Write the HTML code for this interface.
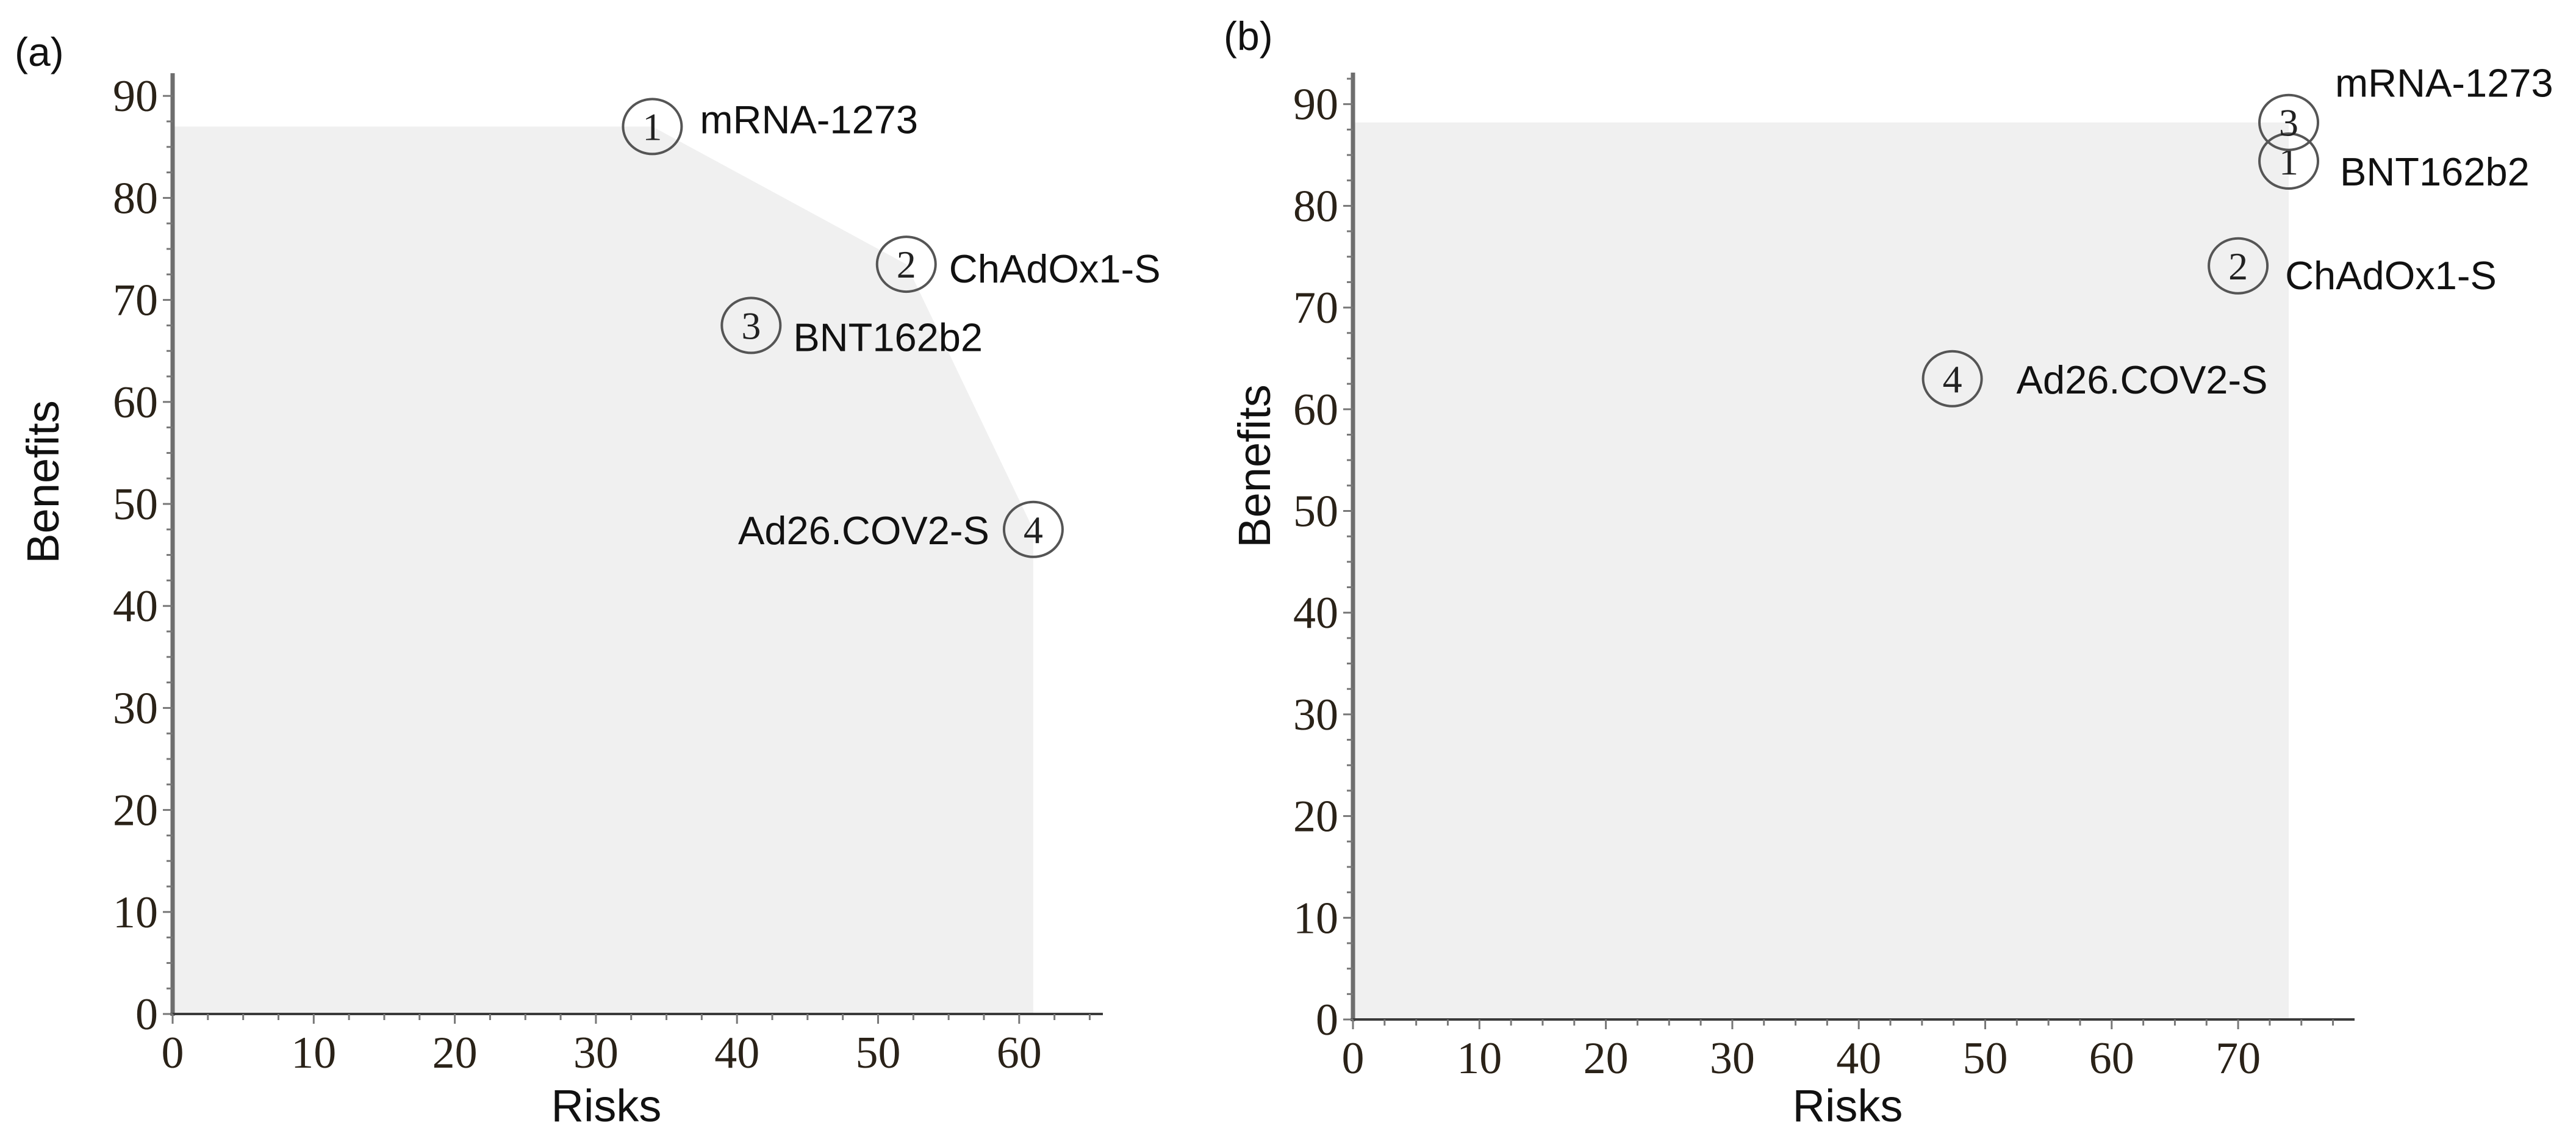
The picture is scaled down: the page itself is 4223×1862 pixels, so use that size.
<!DOCTYPE html>
<html><head><meta charset="utf-8"><style>
html,body{margin:0;padding:0;background:#fff;}
svg{display:block;}
text{font-family:"Liberation Sans",Arial,sans-serif;fill:#111;}
.tick{font-family:"Liberation Serif","Times New Roman",serif;font-size:74px;fill:#2a2218;}
.num{font-family:"Liberation Serif",serif;font-size:64px;fill:#222;}
</style></head><body>
<svg id="fig" width="4223" height="1862" viewBox="0 0 4223 1862" xmlns="http://www.w3.org/2000/svg"></svg>
<script>
// Panel (a)
const aNames = ["mRNA-1273","ChAdOx1-S","BNT162b2","Ad26.COV2-S"];
const aIds = ["1","2","3","4"];
const aRisk = [34,52,41,61];
const aBenefit = [87,73.5,67.5,47.5];
const aXTicks = [0,10,20,30,40,50,60];
const aYTicks = [0,10,20,30,40,50,60,70,80,90];
// Panel (b)
const bNames = ["BNT162b2","ChAdOx1-S","mRNA-1273","Ad26.COV2-S"];
const bIds = ["1","2","3","4"];
const bRisk = [74,70,74,47.4];
const bBenefit = [84.4,74.1,88.2,63];
const bXTicks = [0,10,20,30,40,50,60,70];
const bYTicks = [0,10,20,30,40,50,60,70,80,90];

const NS="http://www.w3.org/2000/svg";
const svg=document.getElementById('fig');
function mk(tag,attrs,parent,txt){const e=document.createElementNS(NS,tag);for(const k in attrs)e.setAttribute(k,attrs[k]);if(txt!==undefined)e.textContent=txt;(parent||svg).appendChild(e);return e;}

function upperHull(pts){
  pts=pts.slice().sort((p,q)=>p[0]-q[0]||p[1]-q[1]);
  const h=[];
  for(const p of pts){
    while(h.length>=2){const a=h[h.length-2],b=h[h.length-1];
      const cr=(b[0]-a[0])*(p[1]-a[1])-(b[1]-a[1])*(p[0]-a[0]);
      if(cr>=0)h.pop();else break;}
    h.push(p);}
  return h;
}

function panel(cfg){
  const g=mk('g',{});
  
  
  const X=v=>cfg.x0+v*cfg.px;
  const Y=v=>cfg.y0-v*cfg.py;
  const maxY=Math.max(...cfg.ben), maxX=Math.max(...cfg.risk);
  const pts=cfg.risk.map((r,i)=>[r,cfg.ben[i]]);
  pts.push([0,maxY]);pts.push([maxX,0]);
  const hull=upperHull(pts);
  let d='M'+X(0)+','+Y(0);
  hull.forEach(p=>{d+=' L'+X(p[0]).toFixed(1)+','+Y(p[1]).toFixed(1);});
  d+=' L'+X(maxX)+','+Y(0)+' Z';
  const sh=mk('path',{d:d,fill:'#f0f0f0'},g);
  
  
  const ya=mk('line',{x1:cfg.x0,y1:cfg.y0+3,x2:cfg.x0,y2:cfg.yTop,stroke:'#6e6e6e','stroke-width':7},g);
  
  
  const xa=mk('line',{x1:cfg.x0-4,y1:cfg.y0,x2:cfg.xEnd,y2:cfg.y0,stroke:'#3a3a3a','stroke-width':4},g);
  
  
  const xMax=(cfg.xEnd-cfg.x0)/cfg.px;
  for(let v=0;v<=xMax;v+=2.5){
    const maj=Math.abs(v%10)<1e-6;
    mk('line',{x1:X(v),y1:cfg.y0,x2:X(v),y2:cfg.y0+(maj?16:10),stroke:'#777','stroke-width':3},g);
  }
  const yMax=(cfg.y0-cfg.yTop)/cfg.py;
  for(let v=0;v<=yMax;v+=2.5){
    const maj=Math.abs(v%10)<1e-6;
    mk('line',{x1:cfg.x0,y1:Y(v),x2:cfg.x0-(maj?16:10),y2:Y(v),stroke:'#777','stroke-width':3},g);
  }
  cfg.xt.forEach(v=>{
    const t=mk('text',{x:X(v),y:cfg.y0+88,'text-anchor':'middle',class:'tick'},g,String(v));
    
    
  });
  cfg.yt.forEach(v=>{
    const t=mk('text',{x:cfg.x0-24,y:Y(v)+25,'text-anchor':'end',class:'tick'},g,String(v));
    
    
  });
  const xt=mk('text',{x:cfg.xTitleX,y:1838,'text-anchor':'middle','font-size':74},g,'Risks');
  
  
  const yt=mk('text',{x:0,y:0,'text-anchor':'middle','font-size':74,transform:'translate('+(cfg.yTitleX)+','+cfg.yTitleY+') rotate(-90)'},g,'Benefits');
  
  
  const pl=mk('text',{x:cfg.labX,y:cfg.labY,'font-size':66},g,cfg.label);
  
  
  cfg.risk.forEach((r,i)=>{
    const cx=X(r), cy=Y(cfg.ben[i]);
    const pg=mk('g',{},g);
    
    
    mk('ellipse',{cx:cx,cy:cy,rx:48,ry:45,fill:'none',stroke:'#555','stroke-width':4},pg);
    mk('text',{x:cx,y:cy+22,'text-anchor':'middle',class:'num'},pg,cfg.ids[i]);
    const o=cfg.lab[i];
    const lt=mk('text',{x:cx+o[0],y:cy+o[1],'font-size':65,'text-anchor':o[2]||'start'},g,cfg.names[i]);
    
    
  });
}

panel({name:'chart-a',label:'(a)',labX:24,labY:108,x0:283,px:23.13,y0:1662,py:16.72,yTop:120,xEnd:1808,
  xt:aXTicks,yt:aYTicks,risk:aRisk,ben:aBenefit,ids:aIds,names:aNames,
  xTitleX:994,yTitleX:96,yTitleY:790,
  lab:[[78,11],[70,30],[69,42],[-72,24,'end']]});
panel({name:'chart-b',label:'(b)',labX:2006,labY:82,x0:2218,px:20.73,y0:1671,py:16.67,yTop:119,xEnd:3860,
  xt:bXTicks,yt:bYTicks,risk:bRisk,ben:bBenefit,ids:bIds,names:bNames,
  xTitleX:3029,yTitleX:2082,yTitleY:764,
  lab:[[84,40],[77,38],[76,-42],[105,24]]});
</script>
</body></html>
